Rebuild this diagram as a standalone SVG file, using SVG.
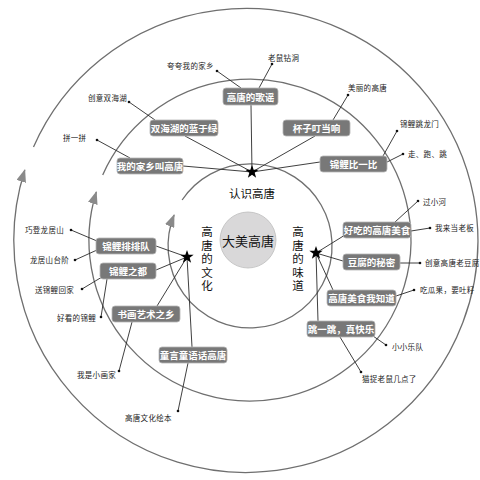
<svg xmlns="http://www.w3.org/2000/svg" width="480" height="480" viewBox="0 0 480 480">
<style>
.ring{fill:none;stroke:#6f6f6f;stroke-width:1.3}
.ln{stroke:#2a2a2a;stroke-width:0.9;fill:none}
.box{fill:#787878;stroke:#b5b5b5;stroke-width:0.8}
.bt{font-family:"Noto Sans CJK SC","Noto Sans",sans-serif;font-size:9.5px;font-weight:bold;fill:#fff;text-anchor:middle;dominant-baseline:central}
.lf{font-family:"Noto Sans CJK SC","Noto Sans",sans-serif;font-size:7.5px;fill:#222;dominant-baseline:central;letter-spacing:0.3px}
.cat{font-family:"Noto Sans CJK SC","Noto Sans",sans-serif;font-size:11.5px;fill:#111;text-anchor:middle;dominant-baseline:central}
.vt{font-family:"Noto Sans CJK SC","Noto Sans",sans-serif;font-size:11.5px;fill:#111;text-anchor:middle;writing-mode:vertical-rl;letter-spacing:2px}
.dot{fill:#111}
</style>
<defs>
<marker id="ah" viewBox="0 0 13 10" refX="12" refY="5" markerWidth="13" markerHeight="10" markerUnits="userSpaceOnUse" orient="auto">
<path d="M0,0 L13,5 L0,10 Z" fill="#8a8a8a"/>
</marker>
<path id="star" d="M0,-7 L1.646,-2.265 L6.657,-2.163 L2.663,0.865 L4.114,5.663 L0,2.8 L-4.114,5.663 L-2.663,0.865 L-6.657,-2.163 L-1.646,-2.265 Z" fill="#000"/>
</defs>
<rect width="480" height="480" fill="#fff"/>
<g id="rings">
<path class="ring" d="M33.5,147 A232,232 0 1 1 24.8,170" marker-end="url(#ah)"/>
<path class="ring" d="M102.7,175 A161,161 0 1 1 96.3,192" marker-end="url(#ah)"/>
<path class="ring" d="M182.1,200 A82,82 0 1 1 174.1,215" marker-end="url(#ah)"/>
</g>
<g id="connectors">
<line class="ln" x1="252" y1="172" x2="251" y2="105"/>
<line class="ln" x1="252" y1="172" x2="185" y2="136"/>
<line class="ln" x1="252" y1="172" x2="183" y2="166"/>
<line class="ln" x1="252" y1="172" x2="315" y2="136"/>
<line class="ln" x1="252" y1="172" x2="320" y2="162"/>
<line class="ln" x1="217" y1="71" x2="241" y2="88"/>
<line class="ln" x1="272" y1="64" x2="259" y2="88"/>
<line class="ln" x1="129" y1="102" x2="155" y2="120"/>
<line class="ln" x1="97" y1="140" x2="130" y2="158"/>
<line class="ln" x1="348" y1="95" x2="333" y2="120"/>
<line class="ln" x1="397" y1="131" x2="383" y2="156"/>
<line class="ln" x1="403" y1="154" x2="387" y2="162"/>
<line class="ln" x1="187" y1="257" x2="156" y2="246"/>
<line class="ln" x1="187" y1="257" x2="156" y2="270"/>
<line class="ln" x1="187" y1="257" x2="157" y2="306"/>
<line class="ln" x1="187" y1="257" x2="192" y2="347"/>
<line class="ln" x1="71" y1="230" x2="97" y2="241"/>
<line class="ln" x1="75" y1="260" x2="97" y2="250"/>
<line class="ln" x1="82" y1="289" x2="102" y2="277"/>
<line class="ln" x1="101" y1="317" x2="107" y2="279"/>
<line class="ln" x1="119" y1="371" x2="132" y2="322"/>
<line class="ln" x1="178" y1="411" x2="188" y2="363"/>
<line class="ln" x1="316" y1="253" x2="345" y2="235"/>
<line class="ln" x1="316" y1="253" x2="343" y2="261"/>
<line class="ln" x1="316" y1="253" x2="333" y2="290"/>
<line class="ln" x1="316" y1="253" x2="318" y2="321"/>
<line class="ln" x1="418" y1="201" x2="395" y2="222"/>
<line class="ln" x1="430" y1="228" x2="411" y2="231"/>
<line class="ln" x1="420" y1="263" x2="400" y2="263"/>
<line class="ln" x1="414" y1="290" x2="396" y2="296"/>
<line class="ln" x1="386" y1="345" x2="373" y2="336"/>
<line class="ln" x1="361" y1="372" x2="340" y2="337"/>
</g>
<g id="center">
<circle cx="248" cy="240" r="28" fill="#d9d8d9" stroke="#bdbdbd" stroke-width="0.8"/>
<text x="248" y="240" class="cat" style="font-size:13px">大美高唐</text>
</g>
<g id="cat-top"><use href="#star" x="252" y="172"/><text class="cat" x="252" y="193">认识高唐</text></g>
<g id="cat-left"><use href="#star" x="187" y="257"/><text class="vt" x="207" y="260">高唐的文化</text></g>
<g id="cat-right"><use href="#star" x="316" y="253"/><text class="vt" x="298" y="260">高唐的味道</text></g>
<g id="n1"><rect class="box" x="223" y="88" width="55" height="17" rx="3"/><text class="bt" x="250.5" y="96.5">高唐的歌谣</text></g>
<g id="n2"><rect class="box" x="150" y="120" width="68" height="16" rx="3"/><text class="bt" x="184" y="128">双海湖的蓝于绿</text></g>
<g id="n3"><rect class="box" x="283" y="120" width="67" height="16" rx="3"/><text class="bt" x="316.5" y="128">杯子叮当响</text></g>
<g id="n4"><rect class="box" x="117" y="158" width="66" height="16" rx="3"/><text class="bt" x="150" y="166">我的家乡叫高唐</text></g>
<g id="n5"><rect class="box" x="320" y="156" width="67" height="16" rx="3"/><text class="bt" x="353.5" y="164">锦鲤比一比</text></g>
<g id="n6"><rect class="box" x="96" y="238" width="60" height="16" rx="3"/><text class="bt" x="126" y="246">锦鲤排排队</text></g>
<g id="n7"><rect class="box" x="100" y="263" width="56" height="16" rx="3"/><text class="bt" x="128" y="271">锦鲤之都</text></g>
<g id="n8"><rect class="box" x="112" y="306" width="68" height="16" rx="3"/><text class="bt" x="146" y="314">书画艺术之乡</text></g>
<g id="n9"><rect class="box" x="159" y="347" width="68" height="16" rx="3"/><text class="bt" x="193" y="355">童言童语话高唐</text></g>
<g id="n10"><rect class="box" x="343" y="222" width="68" height="16" rx="3"/><text class="bt" x="377" y="230">好吃的高唐美食</text></g>
<g id="n11"><rect class="box" x="343" y="254" width="57" height="16" rx="3"/><text class="bt" x="371.5" y="262">豆腐的秘密</text></g>
<g id="n12"><rect class="box" x="327" y="290" width="69" height="16" rx="3"/><text class="bt" x="361.5" y="298">高唐美食我知道</text></g>
<g id="n13"><rect class="box" x="307" y="321" width="68" height="16" rx="3"/><text class="bt" x="341" y="329">跳一跳，真快乐</text></g>
<g id="leaves">
<g id="l1"><circle class="dot" cx="217" cy="71" r="1.3"/><text class="lf" x="167" y="65">夸夸我的家乡</text></g>
<g id="l2"><circle class="dot" cx="272" cy="64" r="1.3"/><text class="lf" x="268" y="57">老鼠钻洞</text></g>
<g id="l3"><circle class="dot" cx="129" cy="102" r="1.3"/><text class="lf" x="88" y="97">创意双海湖</text></g>
<g id="l4"><circle class="dot" cx="97" cy="140" r="1.3"/><text class="lf" x="63" y="137">拼一拼</text></g>
<g id="l5"><circle class="dot" cx="348" cy="95" r="1.3"/><text class="lf" x="348" y="87">美丽的高唐</text></g>
<g id="l6"><circle class="dot" cx="397" cy="131" r="1.3"/><text class="lf" x="400" y="123">锦鲤跳龙门</text></g>
<g id="l7"><circle class="dot" cx="403" cy="154" r="1.3"/><text class="lf" x="408" y="153">走、跑、跳</text></g>
<g id="l8"><circle class="dot" cx="71" cy="230" r="1.3"/><text class="lf" x="25" y="229">巧登龙居山</text></g>
<g id="l9"><circle class="dot" cx="75" cy="260" r="1.3"/><text class="lf" x="30" y="259">龙居山台阶</text></g>
<g id="l10"><circle class="dot" cx="82" cy="289" r="1.3"/><text class="lf" x="35" y="289">送锦鲤回家</text></g>
<g id="l11"><circle class="dot" cx="101" cy="317" r="1.3"/><text class="lf" x="57" y="317">好看的锦鲤</text></g>
<g id="l12"><circle class="dot" cx="119" cy="371" r="1.3"/><text class="lf" x="77" y="374">我是小画家</text></g>
<g id="l13"><circle class="dot" cx="178" cy="411" r="1.3"/><text class="lf" x="125" y="417">高唐文化绘本</text></g>
<g id="l14"><circle class="dot" cx="418" cy="201" r="1.3"/><text class="lf" x="423" y="201">过小河</text></g>
<g id="l15"><circle class="dot" cx="430" cy="228" r="1.3"/><text class="lf" x="435" y="227">我来当老板</text></g>
<g id="l16"><circle class="dot" cx="420" cy="263" r="1.3"/><text class="lf" x="425" y="262">创意高唐老豆腐</text></g>
<g id="l17"><circle class="dot" cx="414" cy="290" r="1.3"/><text class="lf" x="420" y="289">吃瓜果，要吐籽</text></g>
<g id="l18"><circle class="dot" cx="386" cy="345" r="1.3"/><text class="lf" x="392" y="346">小小乐队</text></g>
<g id="l19"><circle class="dot" cx="361" cy="372" r="1.3"/><text class="lf" x="362" y="378">猫捉老鼠几点了</text></g>
</g>
</svg>
